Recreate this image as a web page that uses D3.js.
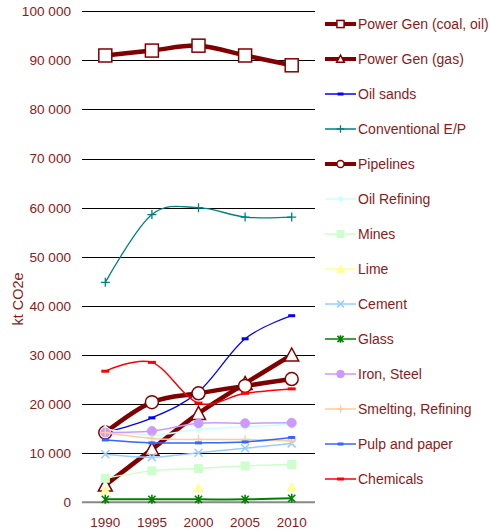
<!DOCTYPE html>
<html><head><meta charset="utf-8">
<script src="https://cdn.jsdelivr.net/npm/d3@7"></script>
<style>body{margin:0;background:#fff;}svg{display:block;font-family:"Liberation Sans",Arial,sans-serif;}</style>
</head><body>
<svg id="c" width="490" height="532"></svg>
<script>
const years = ["1990","1995","2000","2005","2010"];
const yTicks = [0,10000,20000,30000,40000,50000,60000,70000,80000,90000,100000];
const seriesNames = ["Power Gen (coal, oil)","Power Gen (gas)","Oil sands","Conventional E/P","Pipelines","Oil Refining","Mines","Lime","Cement","Glass","Iron, Steel","Smelting, Refining","Pulp and paper","Chemicals"];
const powerGenCoalOil = [91000,92000,93000,91000,89000];
const powerGenGas     = [3500,10800,18100,24200,30000];
const oilSands        = [14200,17200,22500,33300,38000];
const conventionalEP  = [44800,58600,60000,58100,58100];
const pipelines       = [14200,20400,22200,23700,25100];
const oilRefining     = [15000,13700,14900,15400,15900];
const mines           = [4900,6400,6900,7400,7700];
const lime            = [2500,null,2900,null,3100];
const cement          = [9800,9200,10100,11000,12000];
const glass           = [600,600,600,600,800];
const ironSteel       = [14200,14500,16100,16100,16200];
const smeltingRefining= [14200,13000,12800,12800,12500];
const pulpPaper       = [12700,12100,12100,12300,13200];
const chemicals       = [26700,28500,20200,22200,23100];

const values = [powerGenCoalOil,powerGenGas,oilSands,conventionalEP,pipelines,oilRefining,mines,lime,cement,glass,ironSteel,smeltingRefining,pulpPaper,chemicals];
const styles = [
  {c:"#800000",w:4.5,m:"square",s:13,big:true},
  {c:"#800000",w:4.5,m:"triangle",s:14,big:true},
  {c:"#0000ff",w:1.3,m:"dash",s:7},
  {c:"#008080",w:1.3,m:"plus",s:9},
  {c:"#800000",w:4.5,m:"circle",s:13,big:true},
  {c:"#ccffff",w:1.5,m:"diamond",s:8},
  {c:"#ccffcc",w:1.5,m:"square",s:8},
  {c:"#ffff99",w:1.5,m:"triangle",s:9},
  {c:"#99ccff",w:1.5,m:"x",s:8},
  {c:"#008000",w:2,m:"star",s:9},
  {c:"#cc99ff",w:1.5,m:"circle",s:9},
  {c:"#ffcc99",w:1.5,m:"plus",s:9},
  {c:"#3366ff",w:1.5,m:"dash",s:7},
  {c:"#ff0000",w:1.5,m:"dash",s:8}
];
const textColor = "#8b1a1a";
const svg = d3.select("#c");
const x = d3.scalePoint().domain(years).range([82,315]).padding(0.5);
const y = d3.scaleLinear().domain([0,100000]).range([502.3,11.3]);

// gridlines
svg.append("g").selectAll("line").data(yTicks.filter(d=>d>0)).join("line")
  .attr("x1",82).attr("x2",315).attr("y1",d=>Math.round(y(d))+0.5).attr("y2",d=>Math.round(y(d))+0.5)
  .attr("stroke","#000").attr("stroke-width",1);
svg.append("line").attr("x1",82).attr("x2",315).attr("y1",y(0)).attr("y2",y(0)).attr("stroke","#888").attr("stroke-width",2);

// y axis labels
const fmt = v => d3.format(",")(v).replace(/,/g," ");
svg.append("g").selectAll("text").data(yTicks).join("text")
  .attr("x",71).attr("y",d=>y(d)+4.8).attr("text-anchor","end")
  .attr("font-size",13.6).attr("fill",textColor).text(fmt);
// x labels
svg.append("g").selectAll("text").data(years).join("text")
  .attr("x",d=>x(d)).attr("y",527).attr("text-anchor","middle")
  .attr("font-size",13.5).attr("fill",textColor).text(d=>d);
// y title
svg.append("text").attr("transform","translate(23,299) rotate(-90)").attr("text-anchor","middle")
  .attr("font-size",14.5).attr("fill",textColor).text("kt CO2e");

function marker(g, st, cx, cy, scale){
  const s = st.s*scale, h=s/2;
  const fill = st.big ? "#fff" : st.c;
  const sw = st.big ? 1.5 : 1;
  switch(st.m){
    case "square":
      g.append("rect").attr("x",cx-h).attr("y",cy-h).attr("width",s).attr("height",s)
        .attr("fill",fill).attr("stroke",st.c).attr("stroke-width",sw); break;
    case "triangle":
      g.append("path").attr("d",`M${cx},${cy-h}L${cx+h},${cy+h*0.85}L${cx-h},${cy+h*0.85}Z`)
        .attr("fill",fill).attr("stroke",st.c).attr("stroke-width",sw); break;
    case "circle":
      g.append("circle").attr("cx",cx).attr("cy",cy).attr("r",h)
        .attr("fill",fill).attr("stroke",st.c).attr("stroke-width",sw); break;
    case "diamond":
      g.append("path").attr("d",`M${cx},${cy-h}L${cx+h},${cy}L${cx},${cy+h}L${cx-h},${cy}Z`).attr("fill",st.c); break;
    case "dash":
      g.append("rect").attr("x",cx-h).attr("y",cy-1.5).attr("width",s).attr("height",3).attr("fill",st.c); break;
    case "plus":
      g.append("path").attr("d",`M${cx-h},${cy}H${cx+h}M${cx},${cy-h}V${cy+h}`).attr("stroke",st.c).attr("stroke-width",1.3); break;
    case "x":
      g.append("path").attr("d",`M${cx-h},${cy-h}L${cx+h},${cy+h}M${cx-h},${cy+h}L${cx+h},${cy-h}`).attr("stroke",st.c).attr("stroke-width",1.5); break;
    case "star":
      g.append("path").attr("d",`M${cx-h*0.8},${cy-h*0.8}L${cx+h*0.8},${cy+h*0.8}M${cx-h*0.8},${cy+h*0.8}L${cx+h*0.8},${cy-h*0.8}M${cx},${cy-h}V${cy+h}`).attr("stroke",st.c).attr("stroke-width",1.6); break;
  }
}

const plot = svg.append("g");
values.forEach((vals,i)=>{
  const st = styles[i];
  const pts = years.map((yr,j)=>({yr, v: vals[j]}));
  const line = d3.line().defined(d=>d.v!=null).x(d=>x(d.yr)).y(d=>y(d.v)).curve(d3.curveCardinal.tension(0));
  const g = plot.append("g");
  g.append("path").attr("d",line(pts)).attr("fill","none").attr("stroke",st.c).attr("stroke-width",st.w).attr("stroke-linejoin","round");
  pts.filter(d=>d.v!=null).forEach(d=>marker(g, st, x(d.yr), y(d.v), 1));
});

// legend
const lg = svg.append("g");
seriesNames.forEach((name,i)=>{
  const st = styles[i];
  const cy = 24 + i*35;
  lg.append("line").attr("x1",325).attr("x2",356).attr("y1",cy).attr("y2",cy)
    .attr("stroke",st.c).attr("stroke-width",st.big?4:1.5);
  marker(lg, st, 340.5, cy, st.big?0.55:0.85);
  lg.append("text").attr("x",358).attr("y",cy+5).attr("font-size",14).attr("fill",textColor).text(name);
});
</script>
</body></html>
